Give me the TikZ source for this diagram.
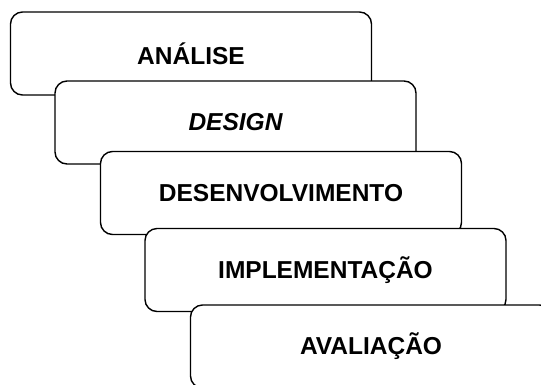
\documentclass[tikz,border=0pt]{standalone}
\usepackage{fontspec}
\setmainfont{Liberation Sans}
\begin{document}
\begin{tikzpicture}[x=1pt,y=-1pt,
  stage/.style={draw=black, fill=white, line width=1.4pt, rounded corners=12pt,
    minimum width=361pt, minimum height=83pt, inner sep=0pt,
    font=\fontsize{24.5}{28}\selectfont\bfseries}]
\clip (0,0) rectangle (541,384);
\useasboundingbox (0,0) rectangle (541,384);
\node[stage] (b1) at (191,53.5) {ANÁLISE};
\node[stage] (b2) at (235.5,122.5) {\itshape DESIGN};
\node[stage] (b3) at (281,193) {DESENVOLVIMENTO};
\node[stage] (b4) at (325.5,270) {IMPLEMENTAÇÃO};
\node[stage] (b5) at (371,346.5) {AVALIAÇÃO};
\end{tikzpicture}
\end{document}
